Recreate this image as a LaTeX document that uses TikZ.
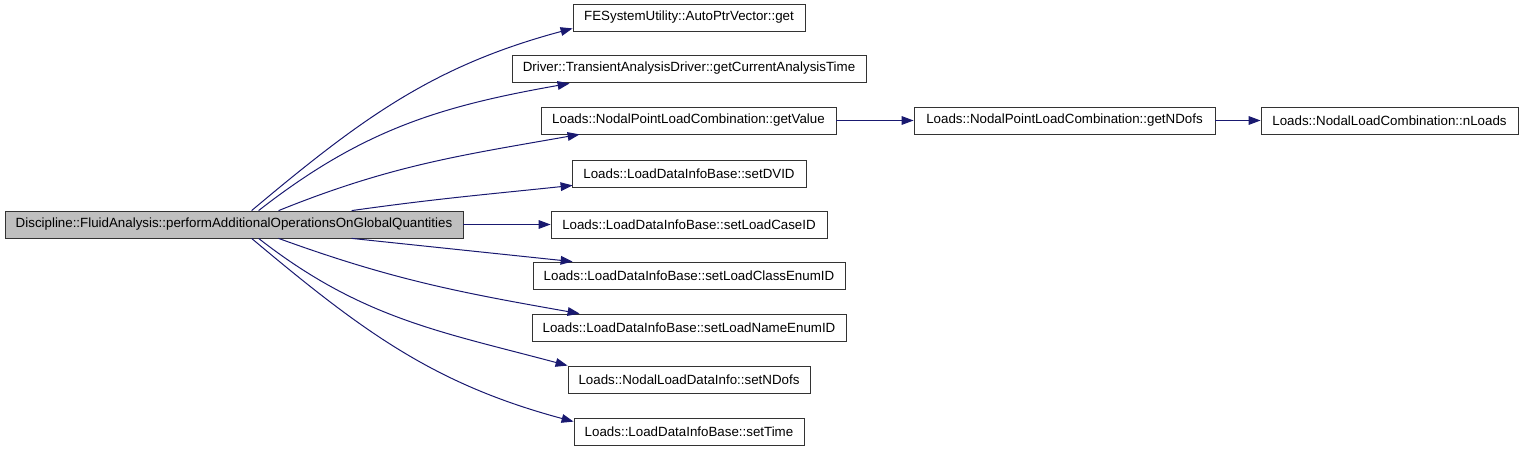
\documentclass[tikz,border=0pt]{standalone}
\usepackage{fontspec}
\setmainfont{Liberation Sans}
\usetikzlibrary{arrows.meta,calc}
\definecolor{callblue}{RGB}{25,25,112}
\definecolor{rootgray}{RGB}{191,191,191}
\tikzset{
  fnbox/.style={draw=black!80, rectangle, line width=0.6pt, inner sep=0pt,
    minimum height=20.25pt, font=\fontsize{10}{12}\selectfont},
  callarrow/.style={draw=callblue, line width=0.75pt,
    -{Triangle[length=9pt,width=6.5pt]}}
}
\begin{document}
\begin{tikzpicture}[x=0.75pt,y=0.75pt]
\useasboundingbox (0,0) rectangle (1523,-453);
\node[fnbox, fill=rootgray, minimum width=343.5pt] (root) at (234,-224.5) {Discipline::FluidAnalysis::performAdditionalOperationsOnGlobalQuantities};
\node[fnbox, minimum width=174pt] (aptr) at (689,-17.5) {FESystemUtility::AutoPtrVector::get};
\node[fnbox, minimum width=265.5pt] (curtime) at (689,-68.5) {Driver::TransientAnalysisDriver::getCurrentAnalysisTime};
\node[fnbox, minimum width=221.25pt] (getval) at (688.5,-120.5) {Loads::NodalPointLoadCombination::getValue};
\node[fnbox, minimum width=225.75pt] (getndofs) at (1064.5,-120.5) {Loads::NodalPointLoadCombination::getNDofs};
\node[fnbox, minimum width=192.75pt] (nloads) at (1389.5,-120.5) {Loads::NodalLoadCombination::nLoads};
\node[fnbox, minimum width=175.5pt] (dvid) at (689,-173.5) {Loads::LoadDataInfoBase::setDVID};
\node[fnbox, minimum width=207pt] (caseid) at (689,-224.5) {Loads::LoadDataInfoBase::setLoadCaseID};
\node[fnbox, minimum width=234pt] (classid) at (689,-275.5) {Loads::LoadDataInfoBase::setLoadClassEnumID};
\node[fnbox, minimum width=235.5pt] (nameid) at (689,-327.5) {Loads::LoadDataInfoBase::setLoadNameEnumID};
\node[fnbox, minimum width=181.5pt] (setndofs) at (689,-379.5) {Loads::NodalLoadDataInfo::setNDofs};
\node[fnbox, minimum width=172.5pt] (settime) at (689,-431.5) {Loads::LoadDataInfoBase::setTime};

% calls going up
\draw[callarrow] ($(root.north west)+(247,0)$) to[out=40,in=195] ($(aptr.south west)+(0,3)$);
\draw[callarrow] ($(root.north west)+(254,0)$) to[out=38,in=190] ($(curtime.south west)+(58,-1)$);
\draw[callarrow] ($(root.north west)+(274,0)$) to[out=22,in=190] ($(getval.south west)+(39,0)$);
\draw[callarrow] ($(root.north west)+(347,0)$) to[out=8,in=186] ($(dvid.south west)+(1,2)$);
\draw[callarrow] (root) -- (caseid);
% calls going down
\draw[callarrow] ($(root.south west)+(347,0)$) to[out=-6,in=174] ($(classid.north west)+(40,0)$);
\draw[callarrow] ($(root.south west)+(274,0)$) to[out=-20,in=170] ($(nameid.north west)+(48,0)$);
\draw[callarrow] ($(root.south west)+(254,0)$) to[out=-38,in=165] ($(setndofs.north west)+(0,0)$);
\draw[callarrow] ($(root.south west)+(247,0)$) to[out=-40,in=165] ($(settime.north west)+(0,-4)$);
% chain on the right
\draw[callarrow] (getval) -- (getndofs);
\draw[callarrow] (getndofs) -- (nloads);
\end{tikzpicture}
\end{document}
